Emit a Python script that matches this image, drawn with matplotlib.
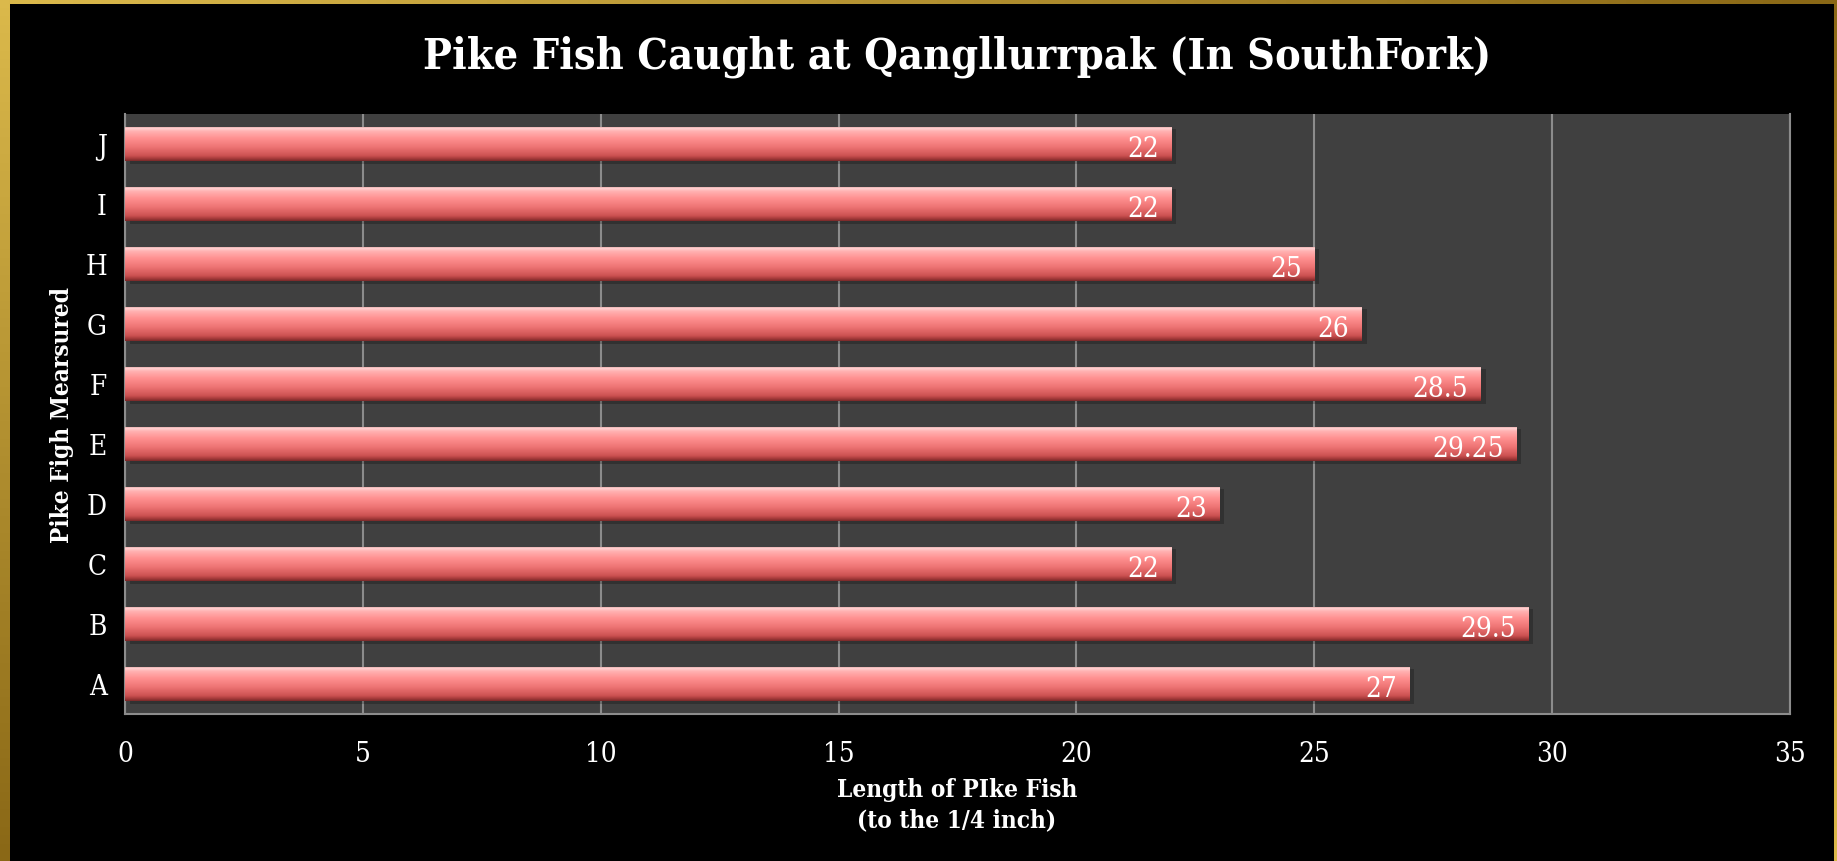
import numpy as np
import matplotlib
matplotlib.use("Agg")
import matplotlib.pyplot as plt
from matplotlib.colors import LinearSegmentedColormap, to_rgb
from matplotlib.patches import Rectangle

# dados
peixes = ['A', 'B', 'C', 'D', 'E', 'F', 'G', 'H', 'I', 'J']
comprimento = [27, 29.5, 22, 23, 29.25, 28.5, 26, 25, 22, 22]
rotulos = ['27', '29.5', '22', '23', '29.25', '28.5', '26', '25', '22', '22']
ticks_x = [0, 5, 10, 15, 20, 25, 30, 35]

fonte = 'DejaVu Serif'
estica = 'condensed'
W, H = 1837, 862
fig = plt.figure(figsize=(W / 100, H / 100), dpi=100)
fig.patch.set_facecolor('black')

# moldura dourada (gradiente)
fundo = fig.add_axes([0, 0, 1, 1], zorder=-10)
fundo.set_axis_off()
xx, yy = np.meshgrid(np.linspace(0, 1, 200), np.linspace(0, 1, 100))
v = 1 - np.abs(xx - yy)
ouro = LinearSegmentedColormap.from_list('ouro', ['#8a6816', '#dbb94b'])
fundo.imshow(v, cmap=ouro, aspect='auto', extent=[0, 1, 0, 1], origin='upper')
fundo.add_patch(Rectangle((10 / W, 0), (1834 - 10) / W, 1 - 5 / H,
                          transform=fundo.transAxes, facecolor='black', edgecolor='none'))
fundo.set_xlim(0, 1)
fundo.set_ylim(0, 1)

ax = fig.add_axes([125 / W, 1 - 715 / H, (1790 - 125) / W, (715 - 115) / H])
ax.set_facecolor('#404040')

y = np.arange(len(peixes))
alt = 0.58

# sombra
ax.barh(y - 0.04, comprimento, height=alt, left=0.1, color='black', alpha=0.22, zorder=2)
barras = ax.barh(y, comprimento, height=alt, color='#e87070', zorder=3)

# gradiente vertical de cada barra
stops = [(0.0, '#d07878'), (0.05, '#ffd6d6'), (0.15, '#ffb0b0'), (0.35, '#ff9090'),
         (0.6, '#ee7474'), (0.85, '#cc5252'), (0.93, '#a83c3c'), (1.0, '#7a2a2a')]
grad = LinearSegmentedColormap.from_list('barra', [(p, to_rgb(c)) for p, c in stops])
g = np.linspace(0, 1, 100).reshape(-1, 1)
for b in barras:
    x0, y0 = b.get_x(), b.get_y()
    w, h = b.get_width(), b.get_height()
    im = ax.imshow(g, cmap=grad, aspect='auto', extent=[x0, x0 + w, y0, y0 + h],
                   origin='upper', zorder=4, interpolation='bilinear')
    im.set_clip_path(b)

for yi, val, txt in zip(y, comprimento, rotulos):
    ax.annotate(txt, (val, yi), xytext=(-9, -3), textcoords='offset points',
                ha='right', va='center', color='white', fontsize=20, family=fonte,
                fontstretch=estica, zorder=6)

ax.set_xlim(0, 35)
ax.set_ylim(-0.5, len(peixes) - 0.5)
ax.set_xticks(ticks_x)
ax.set_yticks(y)
ax.set_yticklabels(peixes)
ax.grid(axis='x', color='#8c8c8c', linewidth=1.5, zorder=1)
ax.set_axisbelow(True)
for s in ['left', 'bottom', 'right']:
    ax.spines[s].set_color('#8c8c8c')
    ax.spines[s].set_linewidth(1.5)
ax.spines['top'].set_visible(False)
ax.tick_params(length=0, colors='white', labelsize=20, pad=13)
ax.tick_params(axis='x', pad=19)
for t in ax.get_xticklabels() + ax.get_yticklabels():
    t.set_family(fonte)
    t.set_fontstretch(estica)

fig.text(957 / W, 1 - 57 / H, 'Pike Fish Caught at Qangllurrpak (In SouthFork)',
         ha='center', va='center', color='white', fontsize=31, fontweight='bold',
         family=fonte, fontstretch=estica)
fig.text(957 / W, 1 - 805 / H, 'Length of PIke Fish\n(to the 1/4 inch)', ha='center', va='center',
         color='white', fontsize=17.5, fontweight='bold', family=fonte, fontstretch=estica,
         linespacing=1.3)
fig.text(62 / W, 1 - 415 / H, 'Pike Figh Mearsured', ha='center', va='center', rotation=90,
         color='white', fontsize=17.5, fontweight='bold', family=fonte, fontstretch=estica)

fig.savefig('out.png', dpi=100, facecolor=fig.get_facecolor())
